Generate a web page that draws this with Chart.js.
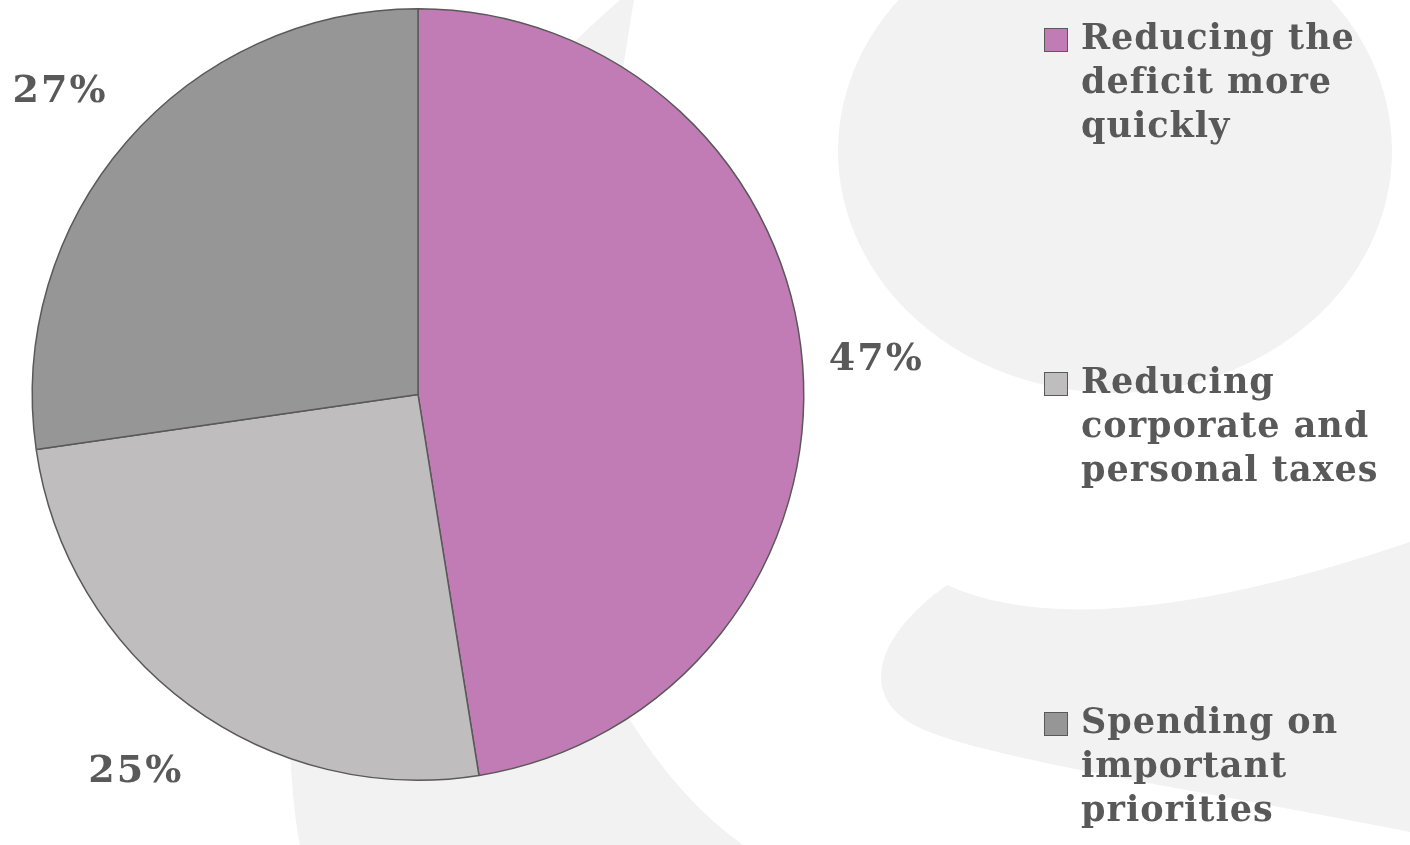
<!DOCTYPE html>
<html>
<head>
<meta charset="utf-8">
<script src="https://cdn.jsdelivr.net/npm/chart.js@4/dist/chart.umd.min.js"></script>
<style>
  html, body { margin: 0; padding: 0; background: #fff; }
  #wrap { position: relative; width: 1410px; height: 845px; overflow: hidden; }
  #myChart { position: absolute; left: 0; top: 0; }
  .legend-item { position: absolute; left: 1044px; display: flex; align-items: flex-start; }
  .legend-box { width: 22px; height: 22px; border: 1.5px solid #595959; margin-top: 13px; flex: none; }
  .legend-text { margin-left: 13px; font-family: 'DejaVu Serif', serif; font-weight: bold; font-size: 35px; letter-spacing: 1px; line-height: 44px; color: #595959; white-space: nowrap; }
</style>
</head>
<body>
<div id="wrap">
  <canvas id="myChart" width="1410" height="845"></canvas>
  <div id="legend"></div>
</div>
<script>
var labels = ['Reducing the deficit more quickly', 'Reducing corporate and personal taxes', 'Spending on important priorities']
var legendLines = [['Reducing the', 'deficit more', 'quickly'], ['Reducing', 'corporate and', 'personal taxes'], ['Spending on', 'important', 'priorities']]
var values = [47, 25, 27]
var sliceColors = ['#c17bb5', '#bfbdbe', '#969696']
var legendTops = [15, 359, 699]

// faint "g" watermark behind the chart
var watermark = {
  id: 'watermark',
  beforeDraw: function (chart) {
    var ctx = chart.ctx
    ctx.save()
    ctx.fillStyle = '#f2f2f2'
    ctx.beginPath()
    ctx.ellipse(1115, 151, 277, 242, 0, 0, Math.PI * 2)
    ctx.fill()

    ctx.beginPath()
    ctx.moveTo(620, 0)
    ctx.lineTo(634, 0)
    ctx.bezierCurveTo(600, 200, 560, 560, 630, 720)
    ctx.quadraticCurveTo(680, 800, 743, 845)
    ctx.lineTo(300, 845)
    ctx.bezierCurveTo(260, 600, 330, 250, 620, 0)
    ctx.fill()

    ctx.beginPath()
    ctx.moveTo(947, 585)
    ctx.quadraticCurveTo(1091, 650, 1410, 542)
    ctx.lineTo(1410, 832)
    ctx.bezierCurveTo(1200, 790, 990, 760, 920, 728)
    ctx.bezierCurveTo(860, 700, 870, 640, 947, 585)
    ctx.fill()
    ctx.restore()
  }
}

var pctLabels = {
  id: 'pctLabels',
  afterDatasetsDraw: function (chart) {
    var ctx = chart.ctx
    var arcs = chart.getDatasetMeta(0).data
    ctx.save()
    ctx.font = 'bold 38px "DejaVu Serif"'
    ctx.letterSpacing = '2px'
    ctx.fillStyle = '#595959'
    ctx.textAlign = 'center'
    ctx.textBaseline = 'middle'
    arcs.forEach(function (arc, i) {
      var p = arc.getProps(['x', 'y', 'startAngle', 'endAngle', 'outerRadius'], true)
      var mid = (p.startAngle + p.endAngle) / 2
      var r = p.outerRadius + 80
      ctx.fillText(values[i] + '%', p.x + Math.cos(mid) * r - 6, p.y + Math.sin(mid) * r + 3)
    })
    ctx.restore()
  }
}

var chart = new Chart('myChart', {
  type: 'pie',
  data: {
    labels: labels,
    datasets: [
      {
        data: values,
        backgroundColor: sliceColors,
        borderColor: '#595959',
        borderWidth: 1.5,
      },
    ],
  },
  options: {
    responsive: false,
    animation: false,
    layout: { padding: { left: 31, top: 8, right: 605, bottom: 64 } },
    plugins: {
      legend: { display: false },
      tooltip: { enabled: false },
    },
  },
  plugins: [watermark, pctLabels],
})

// html legend built from the chart data
var legend = document.getElementById('legend')
chart.data.labels.forEach(function (lab, i) {
  var item = document.createElement('div')
  item.className = 'legend-item'
  item.style.top = legendTops[i] + 'px'
  var box = document.createElement('div')
  box.className = 'legend-box'
  box.style.background = chart.data.datasets[0].backgroundColor[i]
  var txt = document.createElement('div')
  txt.className = 'legend-text'
  txt.innerHTML = legendLines[i].join('<br>')
  item.appendChild(box)
  item.appendChild(txt)
  legend.appendChild(item)
})
</script>
</body>
</html>
